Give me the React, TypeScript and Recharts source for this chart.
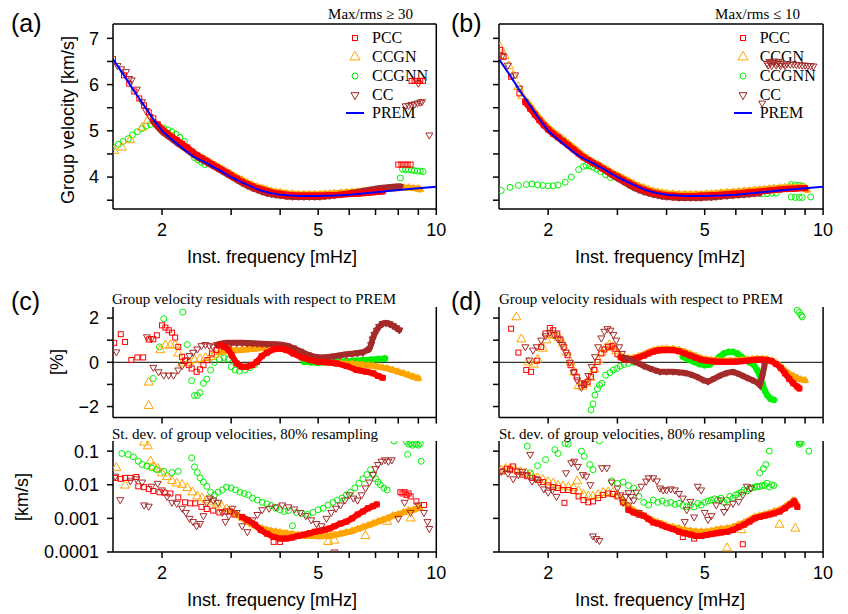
import React from "react";
import { ComposedChart, Scatter, XAxis, YAxis, ReferenceLine } from "recharts";

type Pt = [number, number];
type Kind = "sq" | "up" | "ci" | "dn";

// ---------- PREM reference curve ----------
const premCurve: Pt[] = [
  [1.5, 6.55], [1.6, 6.2], [1.7, 5.85], [1.8, 5.55], [1.9, 5.25], [2.0, 5.0], [2.1, 4.84], [2.2, 4.7], [2.3, 4.57], [2.4, 4.45],
  [2.5, 4.37], [2.6, 4.3], [2.7, 4.22], [2.8, 4.15], [2.9, 4.07], [3.0, 4.0], [3.15, 3.91], [3.3, 3.83], [3.45, 3.76], [3.6, 3.7],
  [3.8, 3.65], [4.0, 3.62], [4.25, 3.6], [4.5, 3.59], [5.0, 3.59], [5.5, 3.6], [6.0, 3.62], [7.0, 3.67], [8.0, 3.72], [9.0, 3.76],
  [10.0, 3.79],
];

// ---------- (a) Max/rms >= 30 ----------
const aPccPts: Pt[] = [[1.5, 6.55], [1.6, 6.2], [1.65, 6.02], [1.7, 5.85], [1.75, 5.7], [1.8, 5.55], [1.85, 5.4], [1.9, 5.27],
  [8.0, 4.27], [8.15, 4.27], [8.3, 4.27], [8.45, 4.27], [8.6, 4.27], [8.65, 6.08], [8.8, 6.08], [8.95, 6.08], [9.1, 6.08], [9.25, 6.08]];
const aPccBand: Pt[] = [[1.95, 5.14], [2.0, 5.03], [2.06, 4.95], [2.12, 4.87], [2.18, 4.8], [2.25, 4.72], [2.32, 4.64], [2.39, 4.55],
  [2.46, 4.47], [2.53, 4.41], [2.6, 4.35], [2.68, 4.28], [2.76, 4.22], [2.84, 4.16], [2.92, 4.1], [3.0, 4.04], [3.1, 3.97], [3.2, 3.9],
  [3.3, 3.85], [3.4, 3.8], [3.5, 3.76], [3.6, 3.73], [3.7, 3.7], [3.8, 3.67], [3.9, 3.65], [4.0, 3.64], [4.15, 3.62], [4.3, 3.61],
  [4.45, 3.6], [4.6, 3.6], [4.75, 3.6], [4.9, 3.6], [5.05, 3.6], [5.2, 3.6], [5.35, 3.61], [5.5, 3.61], [5.7, 3.62], [5.9, 3.63],
  [6.1, 3.64], [6.3, 3.64], [6.5, 3.65], [6.7, 3.66], [6.9, 3.67], [7.1, 3.68], [7.3, 3.69]];
const aCcgnPts: Pt[] = [[1.51, 4.57], [1.58, 4.64], [1.66, 4.8], [1.78, 5.07], [1.84, 5.22]];
const aCcgnBand: Pt[] = [[1.9, 5.2], [1.95, 5.12], [2.0, 5.05], [2.06, 4.96], [2.12, 4.88], [2.18, 4.8], [2.25, 4.71], [2.32, 4.62],
  [2.39, 4.54], [2.46, 4.47], [2.53, 4.41], [2.6, 4.36], [2.68, 4.3], [2.76, 4.24], [2.84, 4.18], [2.92, 4.12], [3.0, 4.07],
  [3.1, 4.0], [3.2, 3.94], [3.3, 3.88], [3.4, 3.83], [3.5, 3.79], [3.6, 3.76], [3.7, 3.73], [3.8, 3.7], [3.9, 3.68], [4.0, 3.67],
  [4.15, 3.65], [4.3, 3.64], [4.45, 3.63], [4.6, 3.63], [4.75, 3.63], [4.9, 3.63], [5.05, 3.63], [5.2, 3.64], [5.35, 3.64],
  [5.5, 3.65], [5.7, 3.66], [5.9, 3.67], [6.1, 3.68], [6.3, 3.69], [6.5, 3.7], [6.7, 3.7], [6.9, 3.71], [7.1, 3.72], [7.3, 3.73],
  [7.5, 3.74], [7.75, 3.75], [8.0, 3.76], [8.25, 3.77], [8.5, 3.77], [8.75, 3.76], [9.0, 3.75], [9.1, 3.73]];
const aCcgnnPts: Pt[] = [[1.5, 4.66], [1.55, 4.71], [1.59, 4.77], [1.64, 4.83], [1.68, 4.91], [1.73, 4.98], [1.78, 5.05], [1.82, 5.1],
  [1.87, 5.14], [2.02, 5.06], [2.07, 5.02], [2.12, 4.98], [2.17, 4.93], [2.22, 4.86], [2.28, 4.77], [2.42, 4.42], [2.47, 4.37],
  [2.52, 4.32], [2.57, 4.27], [8.1, 3.98], [8.2, 4.17], [8.35, 4.16], [8.5, 4.16], [8.65, 4.15], [8.8, 4.14], [8.95, 4.13],
  [9.1, 4.13], [9.25, 4.12]];
const aCcPts: Pt[] = [[1.54, 6.41], [1.575, 6.34], [1.62, 6.28], [1.65, 6.13], [1.674, 6.1], [1.725, 5.9], [1.778, 5.63], [1.82, 5.44],
  [1.86, 5.31], [8.35, 5.54], [8.5, 5.55], [8.65, 5.57], [8.8, 5.58], [8.95, 5.6], [9.1, 5.62], [9.2, 5.63], [9.0, 6.03], [9.6, 4.91]];
const aCcBand: Pt[] = [[1.9, 5.2], [1.95, 5.08], [2.0, 4.98], [2.06, 4.9], [2.12, 4.82], [2.18, 4.74], [2.25, 4.66], [2.32, 4.58],
  [2.39, 4.5], [2.46, 4.43], [2.53, 4.37], [2.6, 4.31], [2.68, 4.25], [2.76, 4.19], [2.84, 4.13], [2.92, 4.07], [3.0, 4.01],
  [3.1, 3.94], [3.2, 3.87], [3.3, 3.81], [3.4, 3.76], [3.5, 3.72], [3.6, 3.68], [3.7, 3.65], [3.8, 3.63], [3.9, 3.61], [4.0, 3.6],
  [4.15, 3.58], [4.3, 3.57], [4.45, 3.57], [4.6, 3.57], [4.75, 3.57], [4.9, 3.57], [5.05, 3.57], [5.2, 3.58], [5.35, 3.59],
  [5.5, 3.6], [5.7, 3.62], [5.9, 3.64], [6.1, 3.66], [6.3, 3.68], [6.5, 3.7], [6.7, 3.72], [6.9, 3.74], [7.1, 3.76], [7.3, 3.77],
  [7.5, 3.78], [7.75, 3.79], [8.0, 3.8], [8.1, 3.8]];

// ---------- (b) Max/rms <= 10 ----------
const bPccPts: Pt[] = [[1.51, 6.75], [1.54, 6.6], [1.61, 6.17], [1.69, 5.81]];
const bPccBand: Pt[] = [[1.75, 5.62], [1.8, 5.48], [1.85, 5.35], [1.9, 5.23], [1.95, 5.12], [2.0, 5.03], [2.06, 4.94], [2.12, 4.86],
  [2.18, 4.78], [2.25, 4.69], [2.32, 4.6], [2.39, 4.51], [2.46, 4.43], [2.53, 4.37], [2.6, 4.31], [2.68, 4.25], [2.76, 4.18],
  [2.84, 4.12], [2.92, 4.06], [3.0, 4.01], [3.1, 3.94], [3.2, 3.88], [3.3, 3.82], [3.4, 3.77], [3.5, 3.73], [3.6, 3.69], [3.7, 3.66],
  [3.8, 3.64], [3.9, 3.62], [4.0, 3.61], [4.15, 3.6], [4.3, 3.59], [4.45, 3.59], [4.6, 3.59], [4.75, 3.59], [4.9, 3.6], [5.05, 3.6],
  [5.2, 3.61], [5.35, 3.61], [5.5, 3.62], [5.7, 3.63], [5.9, 3.64], [6.1, 3.65], [6.3, 3.66], [6.5, 3.67], [6.7, 3.68], [6.9, 3.69],
  [7.1, 3.7], [7.3, 3.71], [7.5, 3.72], [7.75, 3.73], [8.0, 3.74], [8.25, 3.75], [8.5, 3.75], [8.75, 3.76], [9.0, 3.76]];
const bCcgnPts: Pt[] = [[1.51, 6.8], [1.55, 6.62], [1.59, 6.4], [1.63, 6.2], [1.68, 5.95], [1.72, 5.75]];
const bCcgnBand: Pt[] = [[1.78, 5.6], [1.85, 5.4], [1.9, 5.28], [1.95, 5.17], [2.0, 5.07], [2.06, 4.98], [2.12, 4.9], [2.18, 4.82],
  [2.25, 4.73], [2.32, 4.64], [2.39, 4.55], [2.46, 4.46], [2.53, 4.39], [2.6, 4.33], [2.68, 4.27], [2.76, 4.21], [2.84, 4.15],
  [2.92, 4.09], [3.0, 4.04], [3.1, 3.98], [3.2, 3.92], [3.3, 3.86], [3.4, 3.81], [3.5, 3.77], [3.6, 3.73], [3.7, 3.7], [3.8, 3.68],
  [3.9, 3.66], [4.0, 3.65], [4.15, 3.64], [4.3, 3.63], [4.45, 3.63], [4.6, 3.63], [4.75, 3.63], [4.9, 3.63], [5.05, 3.64],
  [5.2, 3.64], [5.35, 3.65], [5.5, 3.66], [5.7, 3.67], [5.9, 3.68], [6.1, 3.69], [6.3, 3.7], [6.5, 3.71], [6.7, 3.72], [6.9, 3.73],
  [7.1, 3.74], [7.3, 3.75], [7.5, 3.76], [7.75, 3.77], [8.0, 3.78], [8.25, 3.78], [8.5, 3.78], [8.75, 3.78], [9.0, 3.77], [9.1, 3.72]];
const bCcgnnPts: Pt[] = [[1.52, 3.71], [1.6, 3.78], [1.68, 3.82], [1.76, 3.84], [1.82, 3.85], [1.88, 3.83], [1.94, 3.82], [2.0, 3.81],
  [2.06, 3.81], [2.12, 3.83], [2.21, 3.89], [2.29, 4.0], [2.39, 4.16], [2.46, 4.23], [2.5, 4.25], [2.55, 4.24], [2.6, 4.21],
  [2.66, 4.17], [2.72, 4.12], [2.8, 4.05], [2.88, 3.99], [7.0, 3.64], [7.2, 3.64], [7.4, 3.65], [7.6, 3.65], [8.3, 3.84],
  [8.5, 3.83], [8.7, 3.82], [8.85, 3.81], [8.3, 3.57], [8.5, 3.56], [8.7, 3.56], [8.85, 3.56], [9.3, 3.57]];
const bCcPts: Pt[] = [[1.53, 6.63], [1.58, 6.42], [1.65, 6.21], [1.69, 5.92], [7.0, 5.6],
  [7.2, 6.46], [7.35, 6.47], [7.5, 6.47], [7.65, 6.46], [7.8, 6.46], [7.95, 6.45], [8.1, 6.45], [8.25, 6.44], [8.4, 6.44],
  [8.55, 6.43], [8.7, 6.43], [8.85, 6.42], [9.0, 6.42], [9.15, 6.41], [9.3, 6.41], [9.45, 6.4], [7.25, 6.42], [7.4, 6.41],
  [7.6, 6.42], [7.8, 6.41], [8.0, 6.41], [7.3, 6.5], [7.5, 6.51], [7.7, 6.5]];
const bCcBand: Pt[] = [[1.75, 5.65], [1.8, 5.5], [1.85, 5.36], [1.9, 5.24], [1.95, 5.12], [2.0, 5.02], [2.06, 4.93], [2.12, 4.85],
  [2.18, 4.77], [2.25, 4.68], [2.32, 4.59], [2.39, 4.5], [2.46, 4.42], [2.53, 4.36], [2.6, 4.3], [2.68, 4.24], [2.76, 4.17],
  [2.84, 4.1], [2.92, 4.03], [3.0, 3.97], [3.1, 3.9], [3.2, 3.83], [3.3, 3.77], [3.4, 3.72], [3.5, 3.68], [3.6, 3.65], [3.7, 3.62],
  [3.8, 3.6], [3.9, 3.58], [4.0, 3.57], [4.15, 3.56], [4.3, 3.55], [4.45, 3.55], [4.6, 3.55], [4.75, 3.55], [4.9, 3.55],
  [5.05, 3.56], [5.2, 3.56], [5.35, 3.57], [5.5, 3.58], [5.7, 3.59], [5.9, 3.6], [6.1, 3.61], [6.3, 3.62], [6.5, 3.63], [6.7, 3.64],
  [6.9, 3.65]];

// ---------- (c) residuals [%] ----------
const cPccPts: Pt[] = [[1.51, 0.88], [1.57, 1.27], [1.61, 0.92], [1.67, 0.1], [1.73, 0.22], [1.79, 0.22], [1.85, 1.03], [1.9, 1.04],
  [1.94, 1.22], [2.0, 1.67], [2.04, 1.57], [2.08, 1.45], [2.12, 1.34], [2.16, 1.12], [2.2, 0.7], [2.25, 0.25], [2.29, 0.07],
  [2.34, -0.13], [2.38, -0.28], [2.45, -0.43], [2.5, -0.32], [2.55, -0.13], [2.61, 0.1], [2.68, 0.4], [2.75, 0.55]];
const cPccBand: Pt[] = [[2.81, 0.77], [2.88, 0.7], [2.95, 0.58], [3.01, 0.32], [3.1, -0.05], [3.19, -0.2], [3.29, -0.2], [3.39, -0.13],
  [3.49, 0.02], [3.59, 0.28], [3.7, 0.43], [3.85, 0.59], [4.0, 0.62], [4.16, 0.55], [4.32, 0.4], [4.54, 0.22], [4.77, 0.1],
  [5.0, 0.02], [5.26, 0.0], [5.57, -0.05], [5.91, -0.17], [6.27, -0.35], [6.64, -0.43], [6.91, -0.5], [7.11, -0.62], [7.3, -0.7]];
const cCcgnPts: Pt[] = [[1.85, -0.91], [1.85, -1.97], [1.98, 0.55], [2.04, 0.77], [2.1, 0.77], [2.16, 0.77], [2.2, 0.4], [2.25, -0.05],
  [2.34, 0.0], [2.42, 0.1], [2.5, 0.15], [2.58, 0.2], [2.66, 0.25], [2.72, 0.35]];
const cCcgnBand: Pt[] = [[2.8, 0.45], [2.9, 0.5], [3.0, 0.55], [3.1, 0.55], [3.2, 0.56], [3.3, 0.58], [3.4, 0.6], [3.5, 0.62],
  [3.6, 0.65], [3.7, 0.68], [3.85, 0.68], [4.0, 0.62], [4.16, 0.55], [4.32, 0.45], [4.5, 0.32], [4.7, 0.2], [4.9, 0.1], [5.1, 0.02],
  [5.3, -0.02], [5.5, -0.04], [5.7, -0.05], [5.9, -0.06], [6.1, -0.08], [6.3, -0.1], [6.5, -0.12], [6.7, -0.14], [6.9, -0.17],
  [7.1, -0.2], [7.3, -0.24], [7.5, -0.28], [7.75, -0.35], [8.0, -0.43], [8.25, -0.5], [8.5, -0.58], [8.75, -0.66], [9.0, -0.73]];
const cCcgnnPts: Pt[] = [[1.9, -0.73], [1.97, 0.7], [2.02, 1.97], [2.26, 2.27], [2.32, 0.8], [2.38, -0.83], [2.42, -1.5], [2.46, -1.5],
  [2.5, -1.37], [2.55, -0.95], [2.6, -0.76], [2.66, -0.35], [2.72, 0.0], [2.8, 0.15], [2.88, 0.2], [2.95, 0.15], [3.0, -0.2],
  [3.07, -0.35], [3.15, -0.4], [3.25, -0.35], [3.35, -0.25], [3.45, -0.1]];
const cCcgnnBand: Pt[] = [[4.6, 0.02], [4.8, 0.0], [5.0, -0.02], [5.3, 0.0], [5.6, 0.03], [5.9, 0.05], [6.2, 0.07], [6.5, 0.1],
  [6.8, 0.12], [7.1, 0.15], [7.4, 0.17]];
const cCcPts: Pt[] = [[1.53, 0.47], [1.83, 1.15], [1.88, 1.07], [1.9, -0.23], [1.96, -0.43], [2.02, -0.58], [2.08, -0.58],
  [2.14, -0.58], [2.2, -0.35], [2.25, -0.15], [2.3, 0.1], [2.35, 0.3], [2.4, 0.45], [2.46, 0.6], [2.52, 0.75], [2.58, 0.8],
  [2.64, 0.75], [2.7, 0.7]];
const cCcBand: Pt[] = [[2.76, 0.8], [2.84, 0.85], [2.92, 0.88], [3.0, 0.88], [3.1, 0.88], [3.2, 0.88], [3.3, 0.87], [3.4, 0.86],
  [3.5, 0.85], [3.6, 0.84], [3.7, 0.83], [3.85, 0.82], [4.0, 0.8], [4.16, 0.75], [4.32, 0.65], [4.5, 0.5], [4.7, 0.35], [4.9, 0.25],
  [5.1, 0.22], [5.3, 0.24], [5.5, 0.28], [5.7, 0.32], [5.9, 0.36], [6.1, 0.39], [6.3, 0.42], [6.5, 0.45], [6.75, 0.6], [6.82, 0.8],
  [6.88, 1.05], [6.95, 1.25], [7.05, 1.45], [7.15, 1.62], [7.3, 1.75], [7.45, 1.78], [7.6, 1.74], [7.75, 1.66], [7.9, 1.56],
  [8.05, 1.46]];

// ---------- (c) st. dev. [km/s] ----------
const c2PccPts: Pt[] = [[1.52, 0.016], [1.57, 0.015], [1.61, 0.016], [1.66, 0.016], [1.72, 0.017], [1.74, 0.009], [1.8, 0.0085],
  [1.85, 0.0075], [1.9, 0.0065], [1.97, 0.006], [2.03, 0.0058], [2.1, 0.0055], [2.2, 0.0042], [2.29, 0.003], [2.36, 0.0028],
  [2.43, 0.0028], [2.52, 0.0022], [2.6, 0.0019], [2.7, 0.0017], [2.8, 0.0015], [2.9, 0.0016], [2.98, 0.0016], [3.06, 0.0013],
  [3.85, 0.0002], [4.0, 0.0002], [8.1, 0.006], [8.2, 0.0055], [8.3, 0.006], [8.4, 0.005], [8.5, 0.0055], [8.6, 0.0045],
  [8.9, 0.0032], [9.3, 0.0025]];
const c2PccBand: Pt[] = [[3.2, 0.0011], [3.3, 0.0009], [3.45, 0.00065], [3.57, 0.00045], [3.7, 0.00035], [3.85, 0.00028],
  [4.0, 0.00025], [4.15, 0.00025], [4.3, 0.00027], [4.45, 0.0003], [4.6, 0.00033], [4.75, 0.00036], [4.9, 0.0004], [5.05, 0.00043],
  [5.2, 0.00046], [5.35, 0.0005], [5.5, 0.00058], [5.7, 0.0007], [5.9, 0.0008], [6.1, 0.001], [6.3, 0.0013], [6.5, 0.0016],
  [6.7, 0.002], [6.9, 0.0023], [7.05, 0.0026]];
const c2CcgnPts: Pt[] = [[1.53, 0.032], [1.61, 0.0095], [1.8, 0.18], [1.84, 0.14], [1.87, 0.05], [1.9, 0.035], [1.95, 0.03],
  [2.0, 0.022], [2.06, 0.017], [2.12, 0.013], [2.18, 0.011], [2.25, 0.01], [2.32, 0.008], [2.39, 0.006], [2.46, 0.0045],
  [2.53, 0.004], [2.6, 0.0035], [2.68, 0.003], [2.76, 0.0026], [2.84, 0.0022], [2.92, 0.0019], [5.3, 0.0002], [5.5, 0.00022],
  [6.6, 0.0003], [7.5, 0.0008], [8.6, 0.001], [9.0, 0.0022]];
const c2CcgnBand: Pt[] = [[3.0, 0.0016], [3.1, 0.0013], [3.2, 0.001], [3.3, 0.0008], [3.4, 0.00065], [3.5, 0.00055], [3.6, 0.0005],
  [3.7, 0.00045], [3.8, 0.00042], [3.9, 0.0004], [4.0, 0.00038], [4.15, 0.00036], [4.3, 0.00034], [4.45, 0.00032], [4.6, 0.0003],
  [4.75, 0.0003], [4.9, 0.0003], [5.05, 0.00029], [5.2, 0.0003], [5.35, 0.0003], [5.5, 0.00032], [5.7, 0.00035], [5.9, 0.00038],
  [6.1, 0.00042], [6.3, 0.00048], [6.5, 0.00055], [6.7, 0.00062], [6.9, 0.0007], [7.1, 0.0008], [7.3, 0.0009], [7.5, 0.001],
  [7.75, 0.0012], [8.0, 0.0013], [8.25, 0.0015], [8.5, 0.0017], [8.75, 0.0018], [9.0, 0.002]];
const c2CcgnnPts: Pt[] = [[1.58, 0.085], [1.64, 0.08], [1.69, 0.068], [1.74, 0.05], [1.78, 0.04], [1.83, 0.036], [1.88, 0.032],
  [1.94, 0.028], [2.02, 0.025], [2.12, 0.023], [2.2, 0.025], [2.38, 0.063], [2.42, 0.034], [2.46, 0.023], [2.5, 0.016], [2.55, 0.012],
  [2.6, 0.009], [2.66, 0.006], [2.72, 0.005], [2.78, 0.006], [2.85, 0.007], [2.92, 0.0085], [3.0, 0.008], [3.08, 0.007],
  [3.16, 0.006], [3.24, 0.0055], [3.32, 0.005], [3.4, 0.004], [3.5, 0.0035], [3.6, 0.003], [3.7, 0.0027], [3.8, 0.0024],
  [3.9, 0.002], [4.0, 0.0018], [4.1, 0.0016], [4.2, 0.0017], [4.3, 0.0006], [4.4, 0.0015], [4.55, 0.0014], [4.7, 0.0013],
  [4.85, 0.0015], [5.0, 0.0018], [5.15, 0.002], [5.3, 0.0025], [5.45, 0.003], [5.6, 0.0035], [5.75, 0.004], [5.9, 0.005],
  [6.05, 0.006], [6.2, 0.008], [6.35, 0.011], [6.5, 0.015], [6.65, 0.02], [6.8, 0.028], [6.9, 0.02], [7.0, 0.015], [7.1, 0.012],
  [7.2, 0.01], [7.35, 0.008], [7.5, 0.007], [7.8, 0.2], [8.4, 0.19], [8.5, 0.16], [8.6, 0.17], [8.7, 0.15], [8.8, 0.17], [8.9, 0.16],
  [9.0, 0.15], [9.1, 0.17], [8.45, 0.08], [9.15, 0.05]];
const c2CcPts: Pt[] = [[1.52, 0.018], [1.565, 0.0036], [1.66, 0.013], [1.72, 0.015], [1.78, 0.012], [1.8, 0.0025], [1.85, 0.0023],
  [1.88, 0.009], [1.95, 0.011], [2.0, 0.007], [2.06, 0.0045], [2.12, 0.003], [2.18, 0.0028], [2.25, 0.002], [2.3, 0.0015],
  [2.35, 0.001], [2.4, 0.0008], [2.45, 0.0006], [2.5, 0.0007], [2.55, 0.0012], [2.6, 0.003], [2.65, 0.004], [2.7, 0.0035],
  [2.78, 0.003], [2.85, 0.0015], [2.9, 0.0008], [2.96, 0.0012], [3.02, 0.002], [3.1, 0.0015], [3.2, 0.0006], [3.3, 0.0004],
  [3.4, 0.0009], [3.5, 0.0013], [3.6, 0.0018], [3.75, 0.002], [3.9, 0.0022], [4.05, 0.0025], [4.2, 0.0022], [4.35, 0.0019],
  [4.5, 0.0015], [4.65, 0.0012], [4.8, 0.0009], [4.95, 0.0007], [5.1, 0.0006], [5.25, 0.001], [5.4, 0.0015], [5.5, 0.0001],
  [5.55, 0.002], [5.7, 0.0025], [5.85, 0.0035], [6.0, 0.005], [6.15, 0.004], [6.3, 0.0035], [6.45, 0.005], [6.6, 0.008],
  [6.75, 0.012], [6.9, 0.02], [7.0, 0.03], [7.1, 0.04], [7.25, 0.05], [7.4, 0.055], [7.55, 0.05], [7.7, 0.055], [8.0, 0.001],
  [8.3, 0.003], [8.6, 0.0015], [9.0, 0.0025], [9.3, 0.0015], [9.5, 0.0008], [9.6, 0.0005]];

// ---------- (d) residuals [%] ----------
const dPccPts: Pt[] = [[1.61, 1.52], [1.68, 0.44], [1.76, -0.35], [1.81, -0.43], [1.87, 0.07], [1.92, 0.7], [1.97, 1.3], [2.02, 1.55],
  [2.06, 1.45], [2.11, 1.3], [2.15, 1.03], [2.19, 0.7], [2.24, 0.32], [2.28, -0.13], [2.33, -0.43], [2.37, -0.68], [2.43, -0.95],
  [2.47, -1.03], [2.52, -0.88], [2.57, -0.65], [2.62, -0.35], [2.67, 0.02], [2.73, 0.4], [2.78, 0.58], [2.84, 0.7], [2.9, 0.73],
  [2.95, 0.62], [3.0, 0.37]];
const dPccBand: Pt[] = [[3.06, 0.22], [3.12, 0.13], [3.2, 0.13], [3.3, 0.15], [3.4, 0.22], [3.5, 0.3], [3.6, 0.4], [3.7, 0.48],
  [3.8, 0.53], [3.9, 0.55], [4.0, 0.56], [4.15, 0.55], [4.3, 0.5], [4.45, 0.4], [4.6, 0.3], [4.75, 0.2], [4.9, 0.12], [5.05, 0.08],
  [5.2, 0.05], [5.4, 0.03], [5.6, 0.02], [5.8, 0.02], [6.0, 0.03], [6.2, 0.05], [6.4, 0.07], [6.6, 0.1], [6.8, 0.12], [7.0, 0.12],
  [7.2, 0.1], [7.4, 0.05], [7.6, -0.08], [7.8, -0.25], [8.0, -0.5], [8.2, -0.75], [8.4, -0.95], [8.6, -1.1], [8.7, -1.18]];
const dCcgnPts: Pt[] = [[1.66, 2.04], [1.71, 1.04], [1.78, 0.0], [1.84, -0.1], [1.88, 0.13], [1.94, 0.62], [1.98, 1.0], [2.03, 1.25],
  [2.08, 1.2], [2.13, 1.1], [2.18, 0.85], [2.23, 0.45], [2.28, 0.0], [2.33, -0.45], [2.39, -1.07], [2.44, -1.1], [2.5, -0.95],
  [2.56, -0.7], [2.62, -0.3], [2.68, 0.1], [2.74, 0.45], [2.8, 0.65], [2.86, 0.78], [2.92, 0.7], [2.98, 0.5]];
const dCcgnBand: Pt[] = [[3.05, 0.3], [3.12, 0.2], [3.2, 0.18], [3.3, 0.2], [3.4, 0.27], [3.5, 0.35], [3.6, 0.45], [3.7, 0.53],
  [3.8, 0.58], [3.9, 0.6], [4.0, 0.61], [4.15, 0.6], [4.3, 0.55], [4.45, 0.47], [4.6, 0.37], [4.75, 0.27], [4.9, 0.18], [5.05, 0.13],
  [5.2, 0.1], [5.4, 0.08], [5.6, 0.07], [5.8, 0.07], [6.0, 0.08], [6.2, 0.1], [6.4, 0.12], [6.6, 0.14], [6.8, 0.15], [7.0, 0.15],
  [7.2, 0.13], [7.4, 0.08], [7.6, -0.05], [7.8, -0.2], [8.0, -0.38], [8.2, -0.52], [8.4, -0.62], [8.6, -0.72], [8.8, -0.78],
  [9.0, -0.82]];
const dCcgnnPts: Pt[] = [[2.57, -2.15], [2.6, -1.88], [2.63, -1.48], [2.67, -1.2], [2.7, -1.03], [2.74, -0.95], [2.8, -0.58],
  [2.87, -0.47], [2.93, -0.35], [2.99, -0.28], [3.05, -0.17], [3.12, -0.1], [3.2, -0.05], [3.3, 0.0], [8.6, 2.35], [8.7, 2.25],
  [8.8, 2.12], [8.85, 2.05]];
const dCcgnnBand: Pt[] = [[4.4, 0.25], [4.55, 0.12], [4.7, 0.02], [4.85, -0.08], [5.0, -0.13], [5.15, -0.1], [5.3, 0.05], [5.45, 0.25],
  [5.6, 0.4], [5.75, 0.47], [5.9, 0.47], [6.05, 0.4], [6.2, 0.25], [6.35, 0.08], [6.5, 0.0], [6.65, -0.1], [6.8, -0.35],
  [6.92, -0.65], [7.02, -1.0], [7.12, -1.3], [7.22, -1.5], [7.35, -1.65], [7.5, -1.7]];
const dCcPts: Pt[] = [[1.75, 0.7], [1.79, 0.1], [1.83, 0.55], [1.87, 0.7], [1.92, 1.0], [1.97, 1.2], [2.02, 1.35], [2.07, 1.25],
  [2.12, 1.05], [2.17, 0.8], [2.22, 0.45], [2.27, 0.0], [2.32, -0.45], [2.37, -0.8], [2.43, -1.13], [2.48, -0.95], [2.53, -0.6],
  [2.58, -0.2], [2.63, 0.25], [2.68, 0.7], [2.73, 1.1], [2.78, 1.4], [2.83, 1.52], [2.88, 1.45], [2.93, 1.25], [2.98, 1.0],
  [3.03, 0.7], [3.08, 0.4]];
const dCcBand: Pt[] = [[3.15, 0.2], [3.22, 0.12], [3.3, 0.05], [3.4, -0.05], [3.5, -0.17], [3.63, -0.28], [3.75, -0.37], [3.85, -0.43],
  [4.0, -0.43], [4.15, -0.43], [4.3, -0.45], [4.45, -0.48], [4.6, -0.55], [4.77, -0.65], [4.95, -0.8], [5.1, -0.88], [5.3, -0.73],
  [5.5, -0.58], [5.7, -0.48], [5.9, -0.43], [6.05, -0.5], [6.2, -0.58], [6.4, -0.7], [6.6, -0.8], [6.8, -0.92], [6.9, -1.03],
  [7.0, -0.65], [7.1, -0.13]];

// ---------- (d) st. dev. [km/s] ----------
const d2PccPts: Pt[] = [[1.53, 0.025], [1.57, 0.03], [1.6, 0.028], [1.63, 0.035], [1.67, 0.025], [1.72, 0.02], [1.77, 0.018],
  [1.82, 0.016], [1.88, 0.014], [1.94, 0.012], [2.0, 0.0095], [2.06, 0.0085], [2.12, 0.008], [2.18, 0.007], [2.25, 0.007],
  [2.32, 0.0065], [2.39, 0.0045], [2.46, 0.0035], [2.53, 0.003], [2.6, 0.0032], [2.68, 0.004], [2.76, 0.005], [2.84, 0.0055],
  [2.92, 0.0053], [3.0, 0.0045], [3.1, 0.003], [2.2, 0.0029], [6.25, 0.00017], [4.4, 0.00028], [4.7, 0.00025]];
const d2PccBand: Pt[] = [[3.2, 0.0018], [3.3, 0.0015], [3.4, 0.0013], [3.5, 0.0012], [3.6, 0.00095], [3.7, 0.00075], [3.8, 0.0007],
  [3.9, 0.00062], [4.0, 0.00055], [4.15, 0.00048], [4.3, 0.0004], [4.45, 0.00036], [4.6, 0.00033], [4.75, 0.0003], [4.9, 0.0003],
  [5.05, 0.00032], [5.2, 0.00034], [5.35, 0.00036], [5.5, 0.00038], [5.7, 0.0004], [5.9, 0.00045], [6.1, 0.00055], [6.3, 0.00065],
  [6.5, 0.0008], [6.7, 0.001], [6.9, 0.0011], [7.1, 0.0012], [7.3, 0.0013], [7.5, 0.0014], [7.75, 0.0016], [8.0, 0.002],
  [8.25, 0.0026], [8.45, 0.0032], [8.6, 0.0022]];
const d2CcgnPts: Pt[] = [[1.52, 0.027], [1.56, 0.03], [1.6, 0.03], [1.65, 0.027], [1.7, 0.024], [1.76, 0.022], [1.82, 0.019],
  [1.88, 0.016], [1.94, 0.014], [2.0, 0.012], [2.06, 0.011], [2.12, 0.0095], [2.18, 0.009], [2.25, 0.0085], [2.32, 0.008],
  [2.37, 0.0128], [2.39, 0.0065], [2.46, 0.005], [2.53, 0.0045], [2.6, 0.0045], [2.68, 0.005], [2.76, 0.0058], [2.84, 0.006],
  [2.92, 0.0058], [3.0, 0.005], [5.7, 0.00013], [7.75, 0.00065], [8.5, 0.0005], [6.2, 0.00045]];
const d2CcgnBand: Pt[] = [[3.1, 0.0035], [3.2, 0.0022], [3.3, 0.0017], [3.4, 0.0014], [3.5, 0.0012], [3.6, 0.001], [3.7, 0.00085],
  [3.8, 0.00075], [3.9, 0.00068], [4.0, 0.0006], [4.15, 0.00055], [4.3, 0.0005], [4.45, 0.00045], [4.6, 0.00042], [4.75, 0.0004],
  [4.9, 0.0004], [5.05, 0.0004], [5.2, 0.00042], [5.35, 0.00045], [5.5, 0.00048], [5.7, 0.0005], [5.9, 0.00055], [6.1, 0.00065],
  [6.3, 0.00075], [6.5, 0.0009], [6.7, 0.0011], [6.9, 0.0012], [7.1, 0.0013], [7.3, 0.0014], [7.5, 0.0016], [7.75, 0.0018],
  [8.0, 0.0022], [8.25, 0.0028], [8.4, 0.0034], [8.55, 0.0028]];
const d2CcgnnPts: Pt[] = [[1.77, 0.14], [1.8, 0.0226], [1.88, 0.037], [1.97, 0.056], [2.08, 0.11], [2.12, 0.085], [2.21, 0.17],
  [2.25, 0.16], [2.43, 0.1], [2.47, 0.07], [2.55, 0.04], [2.6, 0.028], [2.7, 0.2], [2.9, 0.013], [3.0, 0.011], [3.1, 0.012],
  [3.2, 0.0095], [3.3, 0.008], [3.4, 0.0045], [3.5, 0.003], [3.6, 0.0025], [3.7, 0.0035], [3.8, 0.003], [3.9, 0.0033], [4.0, 0.0028],
  [4.1, 0.003], [4.2, 0.0026], [4.3, 0.0028], [4.4, 0.0024], [4.5, 0.0022], [4.6, 0.0025], [4.7, 0.0022], [4.8, 0.0028],
  [4.9, 0.0025], [5.0, 0.003], [5.1, 0.0033], [5.2, 0.0035], [5.3, 0.0038], [5.4, 0.0036], [5.5, 0.004], [5.6, 0.003],
  [5.7, 0.0035], [5.8, 0.0045], [5.9, 0.004], [6.0, 0.005], [6.1, 0.0055], [6.2, 0.006], [6.3, 0.007], [6.4, 0.0065], [6.5, 0.0075],
  [6.6, 0.008], [6.7, 0.0085], [6.8, 0.009], [6.9, 0.0088], [7.0, 0.0095], [7.1, 0.0095], [7.2, 0.011], [7.3, 0.0085], [7.4, 0.01],
  [7.5, 0.0095], [6.9, 0.0226], [7.05, 0.03], [7.15, 0.04], [7.3, 0.1], [8.7, 0.18], [8.75, 0.19], [8.8, 0.17], [8.7, 0.16],
  [9.2, 0.1]];
const d2CcPts: Pt[] = [[1.52, 0.025], [1.58, 0.022], [1.63, 0.015], [1.68, 0.02], [1.72, 0.025], [1.76, 0.02], [1.8, 0.08],
  [1.82, 0.0128], [1.86, 0.015], [1.9, 0.012], [1.95, 0.0075], [2.0, 0.006], [2.05, 0.007], [2.1, 0.0045], [2.22, 0.0226],
  [2.29, 0.045], [2.33, 0.05], [2.38, 0.035], [2.45, 0.02], [2.5, 0.018], [2.56, 0.01], [2.6, 0.0003], [2.65, 0.00025],
  [2.7, 0.00022], [2.74, 0.032], [2.82, 0.032], [2.9, 0.012], [3.0, 0.008], [3.05, 0.005], [3.1, 0.003], [3.15, 0.0045],
  [3.2, 0.0058], [3.25, 0.0045], [3.3, 0.0035], [3.35, 0.006], [3.45, 0.009], [3.55, 0.0128], [3.6, 0.016], [3.7, 0.016],
  [3.78, 0.013], [3.85, 0.008], [3.92, 0.007], [4.0, 0.007], [4.1, 0.0075], [4.2, 0.007], [4.3, 0.0055], [4.4, 0.004],
  [4.5, 0.0018], [4.6, 0.0032], [4.7, 0.0011], [4.8, 0.009], [4.9, 0.007], [5.0, 0.0015], [5.1, 0.00093], [5.2, 0.0012],
  [5.35, 0.0025], [5.5, 0.0035], [5.7, 0.0022], [5.9, 0.0028], [6.1, 0.0032], [6.25, 0.005], [6.4, 0.009], [6.55, 0.008],
  [3.4, 0.0015], [3.2, 0.0025], [4.45, 0.0008], [5.6, 0.0016]];

// ---------- axis ticks ----------
const freqTicks = [2, 3, 4, 5, 6, 7, 8, 9, 10];
const freqLabels = [2, 5, 10];
const velTicks = [3.5, 4, 4.5, 5, 5.5, 6, 6.5, 7];
const resTicks = [-2, -1, 0, 1, 2];
const sdTicks = [0.0001, 0.001, 0.01, 0.1];

const RED = "#ff0000";
const ORANGE = "#ffa500";
const GREEN = "#00f000";
const BROWN = "#a52a2a";
const BLUE = "#0000ff";
const SANS = "'Liberation Sans', Arial, Helvetica, sans-serif";
const SERIF = "'Liberation Serif', 'Times New Roman', serif";

const rows = (pts: Pt[]) => pts.map(([f, v]) => ({ f, v }));

const Marker = ({ kind, color, s, cx, cy }: { kind: Kind; color: string; s: number; cx: number; cy: number }) => {
  if (kind === "sq")
    return <rect x={cx - s / 2} y={cy - s / 2} width={s} height={s} fill="none" stroke={color} strokeWidth={1} />;
  if (kind === "ci") return <circle cx={cx} cy={cy} r={s / 2} fill="none" stroke={color} strokeWidth={1} />;
  const d = kind === "up" ? 1 : -1;
  const pts = `${cx},${cy - d * s * 0.58} ${cx - s / 2},${cy + d * s * 0.29} ${cx + s / 2},${cy + d * s * 0.29}`;
  return <polygon points={pts} fill="none" stroke={color} strokeWidth={1} />;
};

const shapeFor = (kind: Kind, color: string, s: number) => (p: any) =>
  p.cx == null ? <g /> : <Marker kind={kind} color={color} s={s} cx={p.cx} cy={p.cy} />;

const noMark = () => <g />;

interface Layer {
  pts: Pt[];
  color: string;
  kind: Kind;
  size: number;
  band?: boolean;
}

interface PanelProps {
  x: number;
  y: number;
  w: number;
  h: number;
  yDomain: [number, number];
  yTicks: number[];
  yFmt: (v: number) => string;
  yLog?: boolean;
  xLabels: boolean;
  topAxis: boolean;
  layers: Layer[];
  prem?: Pt[];
  zero?: boolean;
}

const PAD_L = 100;
const PAD_R = 20;
const PAD_T = 20;
const PAD_B = 40;
const tickStyle = { fontSize: 18, fill: "#000", fontFamily: SANS };
const axisStroke = { stroke: "#000", strokeWidth: 1.5 };

const Panel = ({ x, y, w, h, yDomain, yTicks, yFmt, yLog, xLabels, topAxis, layers, prem, zero }: PanelProps) => (
  <div style={{ position: "absolute", left: x - PAD_L, top: y - PAD_T }}>
    <ComposedChart
      width={w + PAD_L + PAD_R}
      height={h + PAD_T + PAD_B}
      margin={{ top: topAxis ? 0 : PAD_T, right: 0, bottom: 0, left: 0 }}
    >
      <XAxis
        dataKey="f"
        type="number"
        scale="log"
        domain={[1.5, 10]}
        ticks={freqTicks}
        allowDataOverflow
        height={PAD_B}
        tickSize={6}
        tickMargin={xLabels ? 8 : 4}
        tick={tickStyle}
        tickFormatter={(t: number) => (xLabels && freqLabels.includes(t) ? String(t) : "")}
        axisLine={axisStroke}
        tickLine={axisStroke}
      />
      {topAxis && (
        <XAxis
          xAxisId="t"
          orientation="top"
          dataKey="f"
          type="number"
          scale="log"
          domain={[1.5, 10]}
          ticks={freqTicks}
          allowDataOverflow
          height={PAD_T}
          tickSize={6}
          tick={false}
          axisLine={axisStroke}
          tickLine={axisStroke}
        />
      )}
      <YAxis
        dataKey="v"
        type="number"
        scale={yLog ? "log" : "linear"}
        domain={yDomain}
        ticks={yTicks}
        allowDataOverflow
        width={PAD_L}
        tickSize={6}
        tickMargin={8}
        tick={tickStyle}
        tickFormatter={yFmt}
        axisLine={axisStroke}
        tickLine={axisStroke}
      />
      <YAxis
        yAxisId="r"
        orientation="right"
        dataKey="v"
        type="number"
        scale={yLog ? "log" : "linear"}
        domain={yDomain}
        ticks={yTicks}
        allowDataOverflow
        width={PAD_R}
        tickSize={6}
        tick={false}
        axisLine={axisStroke}
        tickLine={axisStroke}
      />
      {layers.map((l, i) => (
        <Scatter
          key={i}
          data={rows(l.pts)}
          fill="none"
          shape={shapeFor(l.kind, l.color, l.size)}
          line={l.band ? { stroke: l.color, strokeWidth: 6, strokeLinecap: "round" } : false}
          isAnimationActive={false}
        />
      ))}
      {prem && (
        <Scatter
          data={rows(prem)}
          fill="none"
          shape={noMark}
          line={{ stroke: BLUE, strokeWidth: 2 }}
          isAnimationActive={false}
        />
      )}
      {zero && <ReferenceLine y={0} stroke="#000" strokeWidth={1} />}
    </ComposedChart>
  </div>
);

const LegendBox = ({ x, y }: { x: number; y: number }) => {
  const items: { label: string; color: string; kind: Kind | "line"; s: number }[] = [
    { label: "PCC", color: RED, kind: "sq", s: 5 },
    { label: "CCGN", color: ORANGE, kind: "up", s: 10 },
    { label: "CCGNN", color: GREEN, kind: "ci", s: 6 },
    { label: "CC", color: BROWN, kind: "dn", s: 8 },
    { label: "PREM", color: BLUE, kind: "line", s: 18 },
  ];
  return (
    <div style={{ position: "absolute", left: x, top: y }}>
      {items.map((it, i) => (
        <div key={it.label} style={{ position: "absolute", top: i * 18.8, left: 0, height: 18, width: 120 }}>
          <svg width={22} height={18} style={{ position: "absolute", left: -11, top: -9 }}>
            {it.kind === "line" ? (
              <line x1={2} x2={20} y1={9} y2={9} stroke={it.color} strokeWidth={2} />
            ) : (
              <Marker kind={it.kind} color={it.color} s={it.s} cx={11} cy={9} />
            )}
          </svg>
          <span
            style={{ position: "absolute", left: 17, top: -10, fontFamily: SERIF, fontSize: 16, lineHeight: "20px", whiteSpace: "nowrap" }}
          >
            {it.label}
          </span>
        </div>
      ))}
    </div>
  );
};

const Txt = ({ x, y, size, family, children, rotate, align }: any) => (
  <div
    style={{
      position: "absolute",
      left: x,
      top: y,
      fontSize: size,
      fontFamily: family,
      lineHeight: 1,
      whiteSpace: "nowrap",
      transform: rotate
        ? "translate(-50%, -50%) rotate(-90deg)"
        : align === "center"
        ? "translate(-50%, -50%)"
        : align === "right"
        ? "translate(-100%, -50%)"
        : "translate(0, -50%)",
    }}
  >
    {children}
  </div>
);

const velFmt = (v: number) => (Number.isInteger(v) ? String(v) : "");
const resFmt = (v: number) => (v === -2 ? "\u22122" : v === 0 || v === 2 ? String(v) : "");
const sdFmt = (v: number) => String(v);
const blank = () => "";

const L = { x: 112.7, w: 323.3 };
const R = { x: 499.2, w: 324.1 };
const TOP = { y: 24, h: 185 };
const RES = { y: 306.7, h: 110.6 };
const SD = { y: 440.7, h: 111 };

export default function App() {
  return (
    <div style={{ position: "absolute", left: 0, top: 0, width: 848, height: 614, background: "#fff", overflow: "hidden" }}>
      <LegendBox x={355} y={38.3} />
      <LegendBox x={742.7} y={38.3} />

      <Panel
        x={L.x} y={TOP.y} w={L.w} h={TOP.h}
        yDomain={[3.31, 7.31]} yTicks={velTicks} yFmt={velFmt} xLabels topAxis
        layers={[
          { pts: aCcgnnPts, color: GREEN, kind: "ci", size: 6 },
          { pts: aCcgnPts, color: ORANGE, kind: "up", size: 9 },
          { pts: aCcgnBand, color: ORANGE, kind: "up", size: 7, band: true },
          { pts: aCcPts, color: BROWN, kind: "dn", size: 7 },
          { pts: aCcBand, color: BROWN, kind: "dn", size: 6, band: true },
          { pts: aPccPts, color: RED, kind: "sq", size: 5 },
          { pts: aPccBand, color: RED, kind: "sq", size: 5, band: true },
        ]}
        prem={premCurve}
      />
      <Panel
        x={R.x} y={TOP.y} w={R.w} h={TOP.h}
        yDomain={[3.31, 7.31]} yTicks={velTicks} yFmt={blank} xLabels topAxis
        layers={[
          { pts: bCcgnnPts, color: GREEN, kind: "ci", size: 6 },
          { pts: bCcBand, color: BROWN, kind: "dn", size: 6, band: true },
          { pts: bCcgnPts, color: ORANGE, kind: "up", size: 9 },
          { pts: bCcgnBand, color: ORANGE, kind: "up", size: 7, band: true },
          { pts: bPccPts, color: RED, kind: "sq", size: 5 },
          { pts: bPccBand, color: RED, kind: "sq", size: 5, band: true },
          { pts: bCcPts, color: BROWN, kind: "dn", size: 7 },
        ]}
        prem={premCurve}
      />
      <Panel
        x={L.x} y={RES.y} w={L.w} h={RES.h}
        yDomain={[-2.5, 2.5]} yTicks={resTicks} yFmt={resFmt} xLabels={false} topAxis={false} zero
        layers={[
          { pts: cCcgnnPts, color: GREEN, kind: "ci", size: 6 },
          { pts: cCcgnnBand, color: GREEN, kind: "ci", size: 6, band: true },
          { pts: cCcgnPts, color: ORANGE, kind: "up", size: 9 },
          { pts: cCcgnBand, color: ORANGE, kind: "up", size: 7, band: true },
          { pts: cCcPts, color: BROWN, kind: "dn", size: 7 },
          { pts: cCcBand, color: BROWN, kind: "dn", size: 7, band: true },
          { pts: cPccPts, color: RED, kind: "sq", size: 5 },
          { pts: cPccBand, color: RED, kind: "sq", size: 5, band: true },
        ]}
      />
      <Panel
        x={L.x} y={SD.y} w={L.w} h={SD.h}
        yDomain={[0.0001, 0.2]} yTicks={sdTicks} yFmt={sdFmt} yLog xLabels topAxis={false}
        layers={[
          { pts: c2CcgnPts, color: ORANGE, kind: "up", size: 9 },
          { pts: c2CcgnBand, color: ORANGE, kind: "up", size: 7, band: true },
          { pts: c2PccPts, color: RED, kind: "sq", size: 5 },
          { pts: c2PccBand, color: RED, kind: "sq", size: 5, band: true },
          { pts: c2CcgnnPts, color: GREEN, kind: "ci", size: 6 },
          { pts: c2CcPts, color: BROWN, kind: "dn", size: 7 },
        ]}
      />
      <Panel
        x={R.x} y={RES.y} w={R.w} h={RES.h}
        yDomain={[-2.5, 2.5]} yTicks={resTicks} yFmt={blank} xLabels={false} topAxis={false} zero
        layers={[
          { pts: dCcgnnPts, color: GREEN, kind: "ci", size: 6 },
          { pts: dCcgnnBand, color: GREEN, kind: "ci", size: 6, band: true },
          { pts: dCcgnPts, color: ORANGE, kind: "up", size: 9 },
          { pts: dCcgnBand, color: ORANGE, kind: "up", size: 7, band: true },
          { pts: dPccPts, color: RED, kind: "sq", size: 5 },
          { pts: dPccBand, color: RED, kind: "sq", size: 5, band: true },
          { pts: dCcPts, color: BROWN, kind: "dn", size: 7 },
          { pts: dCcBand, color: BROWN, kind: "dn", size: 6, band: true },
        ]}
      />
      <Panel
        x={R.x} y={SD.y} w={R.w} h={SD.h}
        yDomain={[0.0001, 0.2]} yTicks={sdTicks} yFmt={blank} yLog xLabels topAxis={false}
        layers={[
          { pts: d2CcgnPts, color: ORANGE, kind: "up", size: 9 },
          { pts: d2CcgnBand, color: ORANGE, kind: "up", size: 7, band: true },
          { pts: d2PccPts, color: RED, kind: "sq", size: 5 },
          { pts: d2PccBand, color: RED, kind: "sq", size: 5, band: true },
          { pts: d2CcgnnPts, color: GREEN, kind: "ci", size: 6 },
          { pts: d2CcPts, color: BROWN, kind: "dn", size: 7 },
        ]}
      />

      <Txt x={11} y={23} size={25} family={SANS}>(a)</Txt>
      <Txt x={451} y={23} size={25} family={SANS}>(b)</Txt>
      <Txt x={11} y={301} size={25} family={SANS}>(c)</Txt>
      <Txt x={451} y={301} size={25} family={SANS}>(d)</Txt>

      <Txt x={413} y={14} size={15} family={SERIF} align="right">Max/rms ≥ 30</Txt>
      <Txt x={800} y={14} size={15} family={SERIF} align="right">Max/rms ≤ 10</Txt>

      <Txt x={68} y={120} size={18} family={SANS} rotate>Group velocity [km/s]</Txt>
      <Txt x={57} y={362} size={18} family={SANS} rotate>[%]</Txt>
      <Txt x={22} y={497} size={18} family={SANS} rotate>[km/s]</Txt>

      <Txt x={272} y={257} size={18} family={SANS} align="center">Inst. frequency [mHz]</Txt>
      <Txt x={660} y={257} size={18} family={SANS} align="center">Inst. frequency [mHz]</Txt>
      <Txt x={272} y={600} size={18} family={SANS} align="center">Inst. frequency [mHz]</Txt>
      <Txt x={660} y={600} size={18} family={SANS} align="center">Inst. frequency [mHz]</Txt>

      <Txt x={112} y={299} size={15} family={SERIF}>Group velocity residuals with respect to PREM</Txt>
      <Txt x={499} y={299} size={15} family={SERIF}>Group velocity residuals with respect to PREM</Txt>
      <Txt x={112} y={434} size={15} family={SERIF}>St. dev. of group velocities, 80% resampling</Txt>
      <Txt x={499} y={434} size={15} family={SERIF}>St. dev. of group velocities, 80% resampling</Txt>
    </div>
  );
}
